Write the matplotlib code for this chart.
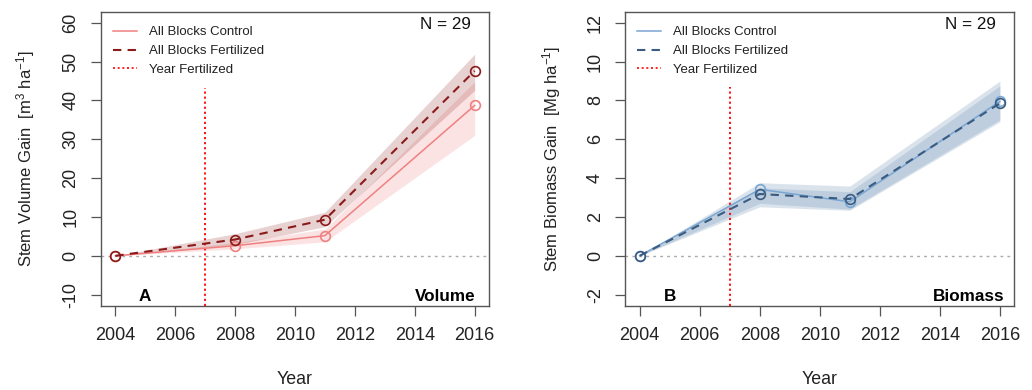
import matplotlib
matplotlib.use("Agg")
import matplotlib.pyplot as plt
from matplotlib.lines import Line2D

plt.rcParams['font.family'] = ['Liberation Sans', 'DejaVu Sans']
plt.rcParams['mathtext.fontset'] = 'custom'
plt.rcParams['mathtext.rm'] = 'Liberation Sans'
plt.rcParams['mathtext.it'] = 'Liberation Sans:italic'
plt.rcParams['mathtext.bf'] = 'Liberation Sans:bold'

# ---------------- data ----------------
years = [2004, 2008, 2011, 2016]
year_fertilized = 2007
n_blocks = 29

vol_ctrl = [0, 2.6, 5.2, 38.7]
vol_ctrl_lo = [0, 1.8, 3.6, 31.0]
vol_ctrl_hi = [0, 3.4, 6.9, 44.8]
vol_fert = [0, 4.2, 9.3, 47.6]
vol_fert_lo = [0, 2.9, 7.5, 42.6]
vol_fert_hi = [0, 5.7, 11.2, 51.9]

bio_ctrl = [0, 3.42, 2.78, 7.95]
bio_ctrl_lo = [0, 2.70, 2.40, 7.00]
bio_ctrl_hi = [0, 3.76, 3.59, 9.00]
bio_fert = [0, 3.18, 2.92, 7.85]
bio_fert_lo = [0, 2.52, 2.34, 6.90]
bio_fert_hi = [0, 3.50, 3.30, 8.75]

xticks = [2004, 2006, 2008, 2010, 2012, 2014, 2016]
vol_yticks = [-10, 0, 10, 20, 30, 40, 50, 60]
bio_yticks = [-2, 0, 2, 4, 6, 8, 10, 12]

legend_labels = ["All Blocks Control", "All Blocks Fertilized", "Year Fertilized"]

# ---------------- figure ----------------
fig = plt.figure(figsize=(10.32, 3.90), dpi=100)
W, H = 1032.0, 390.0
ax1 = fig.add_axes([101 / W, 1 - 305.7 / H, 388 / W, 293.7 / H])
ax2 = fig.add_axes([625.3 / W, 1 - 305.7 / H, 389 / W, 293.7 / H])

panels = [
    dict(ax=ax1, ctrl=vol_ctrl, clo=vol_ctrl_lo, chi=vol_ctrl_hi,
         fert=vol_fert, flo=vol_fert_lo, fhi=vol_fert_hi,
         c_ctrl='#F08080', c_fert='#8B1A1A',
         band_ctrl=('#F08080', 0.22), band_fert=('#8B1A1A', 0.20),
         ylim=(-12.84, 62.76), yticks=vol_yticks, vtop=43.1,
         ylabel=r"Stem Volume Gain  [m$^{3}$ ha$^{-1}$]", ylab_x=-0.165,
         letter="A", letter_x=0.113, name="Volume", name_x=0.966),
    dict(ax=ax2, ctrl=bio_ctrl, clo=bio_ctrl_lo, chi=bio_ctrl_hi,
         fert=bio_fert, flo=bio_fert_lo, fhi=bio_fert_hi,
         c_ctrl='#7AA6D2', c_fert='#3A5C80',
         band_ctrl=('#6F93B5', 0.25), band_fert=('#6F93B5', 0.25),
         ylim=(-2.57, 12.55), yticks=bio_yticks, vtop=8.68,
         ylabel=r"Stem Biomass Gain  [Mg ha$^{-1}$]", ylab_x=-0.16,
         letter="B", letter_x=0.115, name="Biomass", name_x=0.976),
]

spine_col = '#555555'
for p in panels:
    ax = p['ax']
    ax.set_xlim(2003.52, 2016.48)
    ax.set_ylim(*p['ylim'])

    # zero line
    ax.axhline(0, color='#AAAAAA', lw=1.0, ls=(0, (2, 3)), zorder=1)

    # bands
    ax.fill_between(years, p['clo'], p['chi'], color=p['band_ctrl'][0],
                    alpha=p['band_ctrl'][1], lw=0, zorder=2)
    ax.fill_between(years, p['flo'], p['fhi'], color=p['band_fert'][0],
                    alpha=p['band_fert'][1], lw=0, zorder=2)

    # lines
    ax.plot(years, p['ctrl'], color=p['c_ctrl'], lw=1.1, zorder=4,
            marker='o', ms=7, mfc='none', mec=p['c_ctrl'], mew=1.2)
    ax.plot(years, p['fert'], color=p['c_fert'], lw=1.5, ls=(0, (4, 3)),
            zorder=5, marker='o', ms=7, mfc='none', mec=p['c_fert'], mew=1.2)

    # year fertilized
    ax.vlines(year_fertilized, p['ylim'][0], p['vtop'], colors='red',
              lw=1.3, linestyles=(0, (1.2, 1.6)), zorder=3)

    # axes styling
    for s in ax.spines.values():
        s.set_color(spine_col)
        s.set_linewidth(1.0)
    ax.set_xticks(xticks)
    ax.set_xticklabels([str(x) for x in xticks])
    ax.set_yticks(p['yticks'])
    ax.set_yticklabels([str(y) for y in p['yticks']])
    ax.tick_params(direction='out', length=7.5, width=0.9, color=spine_col,
                   labelsize=13, labelcolor='#222222', pad=8)
    for lab in ax.get_yticklabels():
        lab.set_rotation(90)
        lab.set_va('center')
        lab.set_ha('right')

    ax.set_xlabel("Year", fontsize=12.8, color='#222222')
    ax.xaxis.set_label_coords(0.5, -0.222)
    ax.set_ylabel(p['ylabel'], fontsize=12, color='#222222')
    ax.yaxis.set_label_coords(p['ylab_x'], 0.5)

    # texts
    ax.text(0.9526, 0.941, "N = %d" % n_blocks, transform=ax.transAxes,
            ha='right', va='baseline', fontsize=12.3, color='#111111')
    ax.text(p['letter_x'], 0.016, p['letter'], transform=ax.transAxes,
            ha='center', va='baseline', fontsize=12.3, fontweight='bold')
    ax.text(p['name_x'], 0.016, p['name'], transform=ax.transAxes,
            ha='right', va='baseline', fontsize=12.3, fontweight='bold')

    handles = [
        Line2D([], [], color=p['c_ctrl'], lw=1.1),
        Line2D([], [], color=p['c_fert'], lw=1.5, ls=(0, (4, 3))),
        Line2D([], [], color='red', lw=1.2, ls=(0, (1.2, 1.6))),
    ]
    ax.legend(handles, legend_labels, loc='upper left', frameon=False,
              bbox_to_anchor=(0.0, 0.993),
              fontsize=9.5, handlelength=1.82, handletextpad=0.91,
              labelspacing=0.5, borderpad=0.0, borderaxespad=0.91,
              labelcolor='#222222')

fig.savefig("out.png", dpi=100)
